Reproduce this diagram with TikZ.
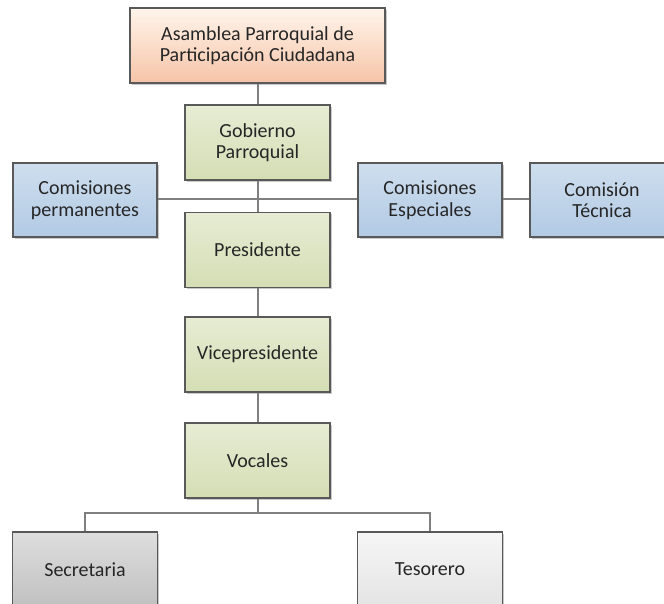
\documentclass[tikz,border=0pt]{standalone}
\usepackage{fontspec}
\setmainfont{Carlito}
\usetikzlibrary{shadows}
\definecolor{lineg}{HTML}{7F7F7F}
\definecolor{edge}{HTML}{595959}
\tikzset{
  orgbox/.style={draw=edge, line width=1.2pt, minimum width=145pt, minimum height=75pt,
    align=center, font=\fontsize{20}{21.5}\selectfont, text=black!85,
    drop shadow={shadow xshift=1.5pt, shadow yshift=-1.5pt, opacity=0.35, fill=black!60}},
  salmon/.style={orgbox, top color=orange!8!white, bottom color={rgb,255:red,246;green,196;blue,168}, minimum width=255pt},
  greenb/.style={orgbox, top color={rgb,255:red,231;green,236;blue,212}, bottom color={rgb,255:red,212;green,222;blue,180}},
  blueb/.style={orgbox, top color={rgb,255:red,206;green,222;blue,238}, bottom color={rgb,255:red,178;green,202;blue,228}, minimum width=144pt, minimum height=74pt},
  greyb/.style={orgbox, top color={rgb,255:red,222;green,222;blue,222}, bottom color={rgb,255:red,192;green,192;blue,192}},
  lightb/.style={orgbox, top color={rgb,255:red,246;green,246;blue,246}, bottom color={rgb,255:red,228;green,228;blue,228}},
  conn/.style={draw=lineg, line width=2pt}
}
\begin{document}
\begin{tikzpicture}[x=1pt,y=-1pt]
\useasboundingbox[fill=white] (0,0) rectangle (664,603);
\coordinate (hl) at (157,199);
\coordinate (br) at (257.5,513);
\node[salmon] (asam) at (257.5,45.5) {Asamblea Parroquial de\\Participación Ciudadana};
\node[greenb] (gob) at (257.5,142.5) {Gobierno\\Parroquial};
\node[greenb] (pres) at (257.5,250) {Presidente};
\node[greenb] (vice) at (257.5,354.5) {Vicepresidente};
\node[greenb] (voc) at (257.5,460.5) {Vocales};
\node[blueb] (perm) at (85,200) {Comisiones\\permanentes};
\node[blueb] (esp) at (430,200) {Comisiones\\Especiales};
\node[blueb] (tec) at (602,200) {Comisión\\Técnica};
\node[greyb] (sec) at (85,569.5) {Secretaria};
\node[lightb] (tes) at (430,569.5) {Tesorero};
\draw[conn] (asam.south) -- (gob.north);
\draw[conn] (gob.south) -- (pres.north);
\draw[conn] (perm.east |- hl) -- (esp.west |- hl);
\draw[conn] (esp.east |- hl) -- (tec.west |- hl);
\draw[conn] (pres.south) -- (vice.north);
\draw[conn] (vice.south) -- (voc.north);
\draw[conn] (voc.south) -- (br);
\draw[conn] (sec.north) |- (br) -| (tes.north);
\end{tikzpicture}
\end{document}
